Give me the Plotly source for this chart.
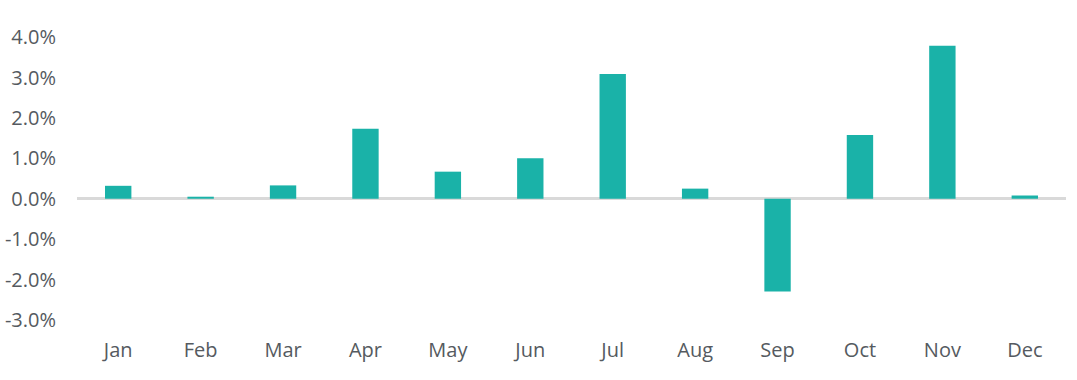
import plotly.graph_objects as go

months = ["Jan", "Feb", "Mar", "Apr", "May", "Jun", "Jul", "Aug", "Sep", "Oct", "Nov", "Dec"]
returns_pct = [0.32, 0.05, 0.33, 1.73, 0.67, 1.0, 3.09, 0.25, -2.3, 1.58, 3.79, 0.08]
y_ticks = [-3, -2, -1, 0, 1, 2, 3, 4]
y_tick_labels = ["-3.0%", "-2.0%", "-1.0%", "0.0%", "1.0%", "2.0%", "3.0%", "4.0%"]

fig = go.Figure(
    go.Bar(
        x=months,
        y=returns_pct,
        marker=dict(color="#1AB2A8", line=dict(width=0)),
        width=0.32,
    )
)

fig.update_layout(
    width=1077,
    height=380,
    margin=dict(l=77, r=11, t=17, b=48, autoexpand=False),
    paper_bgcolor="white",
    plot_bgcolor="white",
    showlegend=False,
    font=dict(family="Open Sans", size=20, color="#555A60"),
    xaxis=dict(
        showgrid=False,
        showline=False,
        ticks="",
        automargin=False,
        ticklabelstandoff=4,
        tickfont=dict(size=20, color="#555A60"),
    ),
    yaxis=dict(
        range=[-3.3, 4.5],
        tickvals=y_ticks,
        ticktext=y_tick_labels,
        showgrid=False,
        showline=False,
        zeroline=True,
        zerolinecolor="#D9D9D9",
        zerolinewidth=3,
        ticks="",
        automargin=False,
        ticklabelstandoff=20,
        tickfont=dict(size=20, color="#555A60"),
    ),
)

fig.write_html("out.html")
